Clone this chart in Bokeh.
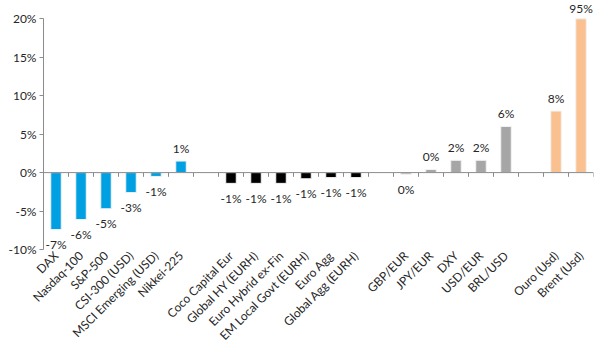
import numpy as np
from bokeh.plotting import figure
from bokeh.models import ColumnDataSource, Range1d, FixedTicker, LabelSet, Span, PrintfTickFormatter
from bokeh.core.properties import value
from bokeh.embed import file_html
from bokeh.resources import INLINE

# ---- data ----
categories = ["DAX", "Nasdaq-100", "S&P-500", "CSI-300 (USD)", "MSCI Emerging (USD)", "Nikkei-225",
              "Coco Capital Eur", "Global HY (EURH)", "Euro Hybrid ex-Fin", "EM Local Govt (EURH)",
              "Euro Agg", "Global Agg (EURH)",
              "GBP/EUR", "JPY/EUR", "DXY", "USD/EUR", "BRL/USD",
              "Ouro (Usd)", "Brent (Usd)"]
groups = [0, 0, 0, 0, 0, 0,
          1, 1, 1, 1, 1, 1,
          2, 2, 2, 2, 2,
          3, 3]
values = [-7.4, -6.1, -4.7, -2.6, -0.5, 1.5,
          -1.4, -1.4, -1.4, -0.8, -0.65, -0.65,
          -0.2, 0.4, 1.6, 1.6, 6.0,
          8.0, 95.0]
labels = ["-7%", "-6%", "-5%", "-3%", "-1%", "1%",
          "-1%", "-1%", "-1%", "-1%", "-1%", "-1%",
          "0%", "0%", "2%", "2%", "6%",
          "8%", "95%"]
group_colors = ["#00A0E2", "#000000", "#A6A6A6", "#FAC090"]
y_ticks = [-10, -5, 0, 5, 10, 15, 20]

Y_MIN, Y_MAX = -10, 20      # axis extent
Y_TOP = 22.38               # room above the axis for the clipped bar's label

# positions: one empty slot between groups
xs = [i + g for i, g in enumerate(groups)]
n_slots = xs[-1] + 1
colors = [group_colors[g] for g in groups]
vals = np.array(values)
bar_top = np.clip(vals, Y_MIN, Y_MAX)
offsets = np.where(vals > Y_MAX, 10.5, np.where(vals >= 0, 13, -15))

src = ColumnDataSource(dict(x=xs, top=bar_top, color=colors, lab=labels,
                            ly=bar_top, off=offsets))

p = figure(width=606, height=351, output_backend="svg", toolbar_location=None,
           x_range=Range1d(-0.5, n_slots - 0.5), y_range=Range1d(Y_MIN, Y_TOP),
           min_border_left=43, min_border_right=13, min_border_top=0, min_border_bottom=90)
p.outline_line_color = None
p.xgrid.grid_line_color = None
p.ygrid.grid_line_color = None
p.background_fill_color = "white"

p.vbar(x="x", top="top", bottom=0, width=0.42, source=src,
       fill_color="color", line_color="#F2F2F2", line_width=1)

# zero line and category-boundary ticks
p.add_layout(Span(location=0, dimension="width", line_color="#8C8C8C", line_width=1))
bounds = np.arange(1, n_slots + 1) - 0.5
p.segment(x0=bounds, y0=np.zeros_like(bounds), x1=bounds, y1=np.full_like(bounds, -0.55),
          line_color="#8C8C8C", line_width=1)

labset = LabelSet(x="x", y="ly", text="lab", y_offset="off", source=src,
                  text_align="center", text_baseline="middle",
                  text_font=value("Lato"), text_font_size="12px", text_color="#262626")
p.add_layout(labset)

# y axis
ya = p.yaxis[0]
ya.bounds = (Y_MIN, Y_MAX)
ya.ticker = FixedTicker(ticks=y_ticks)
ya.formatter = PrintfTickFormatter(format="%d%%")
ya.axis_line_color = "#8C8C8C"
ya.major_tick_line_color = "#8C8C8C"
ya.major_tick_out = 4
ya.major_tick_in = 0
ya.minor_tick_line_color = None
ya.major_label_text_font = "Lato"
ya.major_label_text_font_size = "12px"
ya.major_label_text_color = "#262626"
ya.major_label_standoff = 3

# x axis (labels only)
xa = p.xaxis[0]
xa.ticker = FixedTicker(ticks=xs)
xa.major_label_overrides = {x: c for x, c in zip(xs, categories)}
xa.major_label_orientation = np.pi / 4
xa.axis_line_color = None
xa.major_tick_line_color = None
xa.major_tick_out = 0
xa.major_tick_in = 0
xa.minor_tick_line_color = None
xa.major_label_text_font = "Lato"
xa.major_label_text_font_size = "12px"
xa.major_label_text_color = "#262626"
xa.major_label_standoff = 4

open("out.html", "w").write(file_html(p, INLINE))
